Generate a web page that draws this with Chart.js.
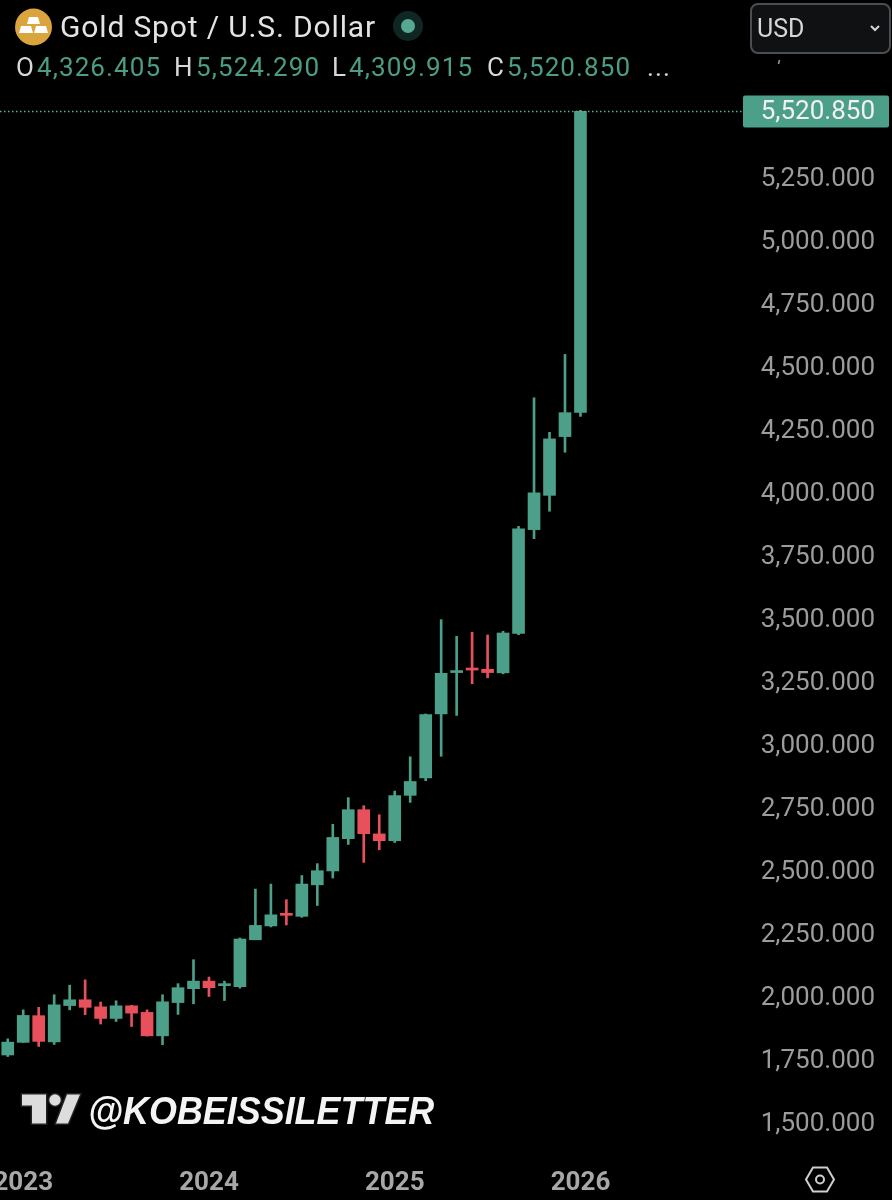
<!DOCTYPE html>
<html>
<head>
<meta charset="utf-8">
<title>Gold Spot / U.S. Dollar</title>
<script src="https://cdn.jsdelivr.net/npm/chart.js@4"></script>
<style>
  html, body { margin: 0; background: #000; }
  #wrap { position: relative; width: 892px; height: 1200px; overflow: hidden; font-family: Roboto, sans-serif; }
  canvas { position: absolute; left: 0; top: 0; }
  .t { position: absolute; white-space: nowrap; line-height: 1; }
  .ohlc { top: 54px; font-size: 26px; letter-spacing: 1.1px; color: #4c9c86; }
  .ohlc.k { color: #d8d8d8; }
  svg { position: absolute; left: 0; top: 0; }
  #usd { position: absolute; left: 750px; top: 3px; width: 137px; height: 47px; border: 2px solid #4a4d52; border-radius: 8px; background: #101113; }
</style>
</head>
<body>
<div id="wrap">
  <canvas id="goldChart" width="892" height="1200"></canvas>
  <svg width="892" height="1200">
    <!-- gold icon -->
    <circle cx="33.5" cy="27" r="18.5" fill="#d9a53c"/>
    <path d="M29 17h9l2 7H27z M21 26h10l2 7H19z M36 26h10l2 7H34z" fill="#fff"/>
    <!-- market status dot -->
    <circle cx="408" cy="26" r="15" fill="#0f2622"/>
    <circle cx="408" cy="26" r="7" fill="#56a892"/>
    <!-- tradingview logo -->
    <g stroke="#222" stroke-width="3" paint-order="stroke">
      <path d="M22 1094.5h24v29H32v-18H22z" fill="#ddd"/>
      <circle cx="55" cy="1100" r="5.7" fill="#ddd"/>
      <path d="M67 1094.5h13l-12 29H56z" fill="#ddd"/>
    </g>
    <!-- settings hexagon -->
    <path d="M813 1167.5h14l7 12-7 12h-14l-7-12z" fill="none" stroke="#cfcfcf" stroke-width="2"/>
    <circle cx="820" cy="1179.5" r="4" fill="none" stroke="#cfcfcf" stroke-width="2"/>
    <!-- comma of the clipped tick above the tag -->
    <path d="M779.5 60l-1 4" stroke="#9c9c9c" stroke-width="1.5"/>
  </svg>
  <div class="t" style="left:60px;top:12px;font-size:30px;color:#e4e4e4;letter-spacing:0.85px">Gold Spot / U.S. Dollar</div>
  <div class="t ohlc k" style="left:16px">O</div><div class="t ohlc" style="left:37px">4,326.405</div>
  <div class="t ohlc k" style="left:174px">H</div><div class="t ohlc" style="left:196px">5,524.290</div>
  <div class="t ohlc k" style="left:332px">L</div><div class="t ohlc" style="left:349px">4,309.915</div>
  <div class="t ohlc k" style="left:487px">C</div><div class="t ohlc" style="left:507px">5,520.850</div>
  <div class="t ohlc k" style="left:647px">...</div>
  <div id="usd"></div>
  <div class="t" style="left:757px;top:16px;font-size:25px;color:#d6d6d6">USD</div>
  <svg width="892" height="1200"><path d="M871 26l4 4 4-4" fill="none" stroke="#d6d6d6" stroke-width="2"/></svg>
  <div class="t" style="left:88px;top:1092px;font-family:'Liberation Sans',sans-serif;font-weight:700;font-style:italic;font-size:38px;color:#f4f4f4;transform:scaleX(0.945);transform-origin:left">@KOBEISSILETTER</div>
</div>

<script>
// monthly candles, Dec 2022 onwards. months after Jan 2026 stay empty
const months = [
  'Dec 2022',
  'Jan 2023', 'Feb 2023', 'Mar 2023', 'Apr 2023', 'May 2023', 'Jun 2023', 'Jul 2023', 'Aug 2023', 'Sep 2023', 'Oct 2023', 'Nov 2023', 'Dec 2023',
  'Jan 2024', 'Feb 2024', 'Mar 2024', 'Apr 2024', 'May 2024', 'Jun 2024', 'Jul 2024', 'Aug 2024', 'Sep 2024', 'Oct 2024', 'Nov 2024', 'Dec 2024',
  'Jan 2025', 'Feb 2025', 'Mar 2025', 'Apr 2025', 'May 2025', 'Jun 2025', 'Jul 2025', 'Aug 2025', 'Sep 2025', 'Oct 2025', 'Nov 2025', 'Dec 2025',
  'Jan 2026', 'Feb 2026', 'Mar 2026', 'Apr 2026', 'May 2026', 'Jun 2026', 'Jul 2026', 'Aug 2026', 'Sep 2026', 'Oct 2026', 'Nov 2026'
];

const opens = [1777, 1827, 1933, 1829, 1973, 1996, 1968, 1922, 1972, 1946, 1853, 1985, 2040,
  2070, 2052, 2048, 2234, 2289, 2337, 2327, 2452, 2507, 2635, 2750, 2654,
  2627, 2807, 2876, 3130, 3294, 3311, 3307, 3293, 3449, 3861, 3997, 4230, 4326.405];
const highs = [1841, 1956, 1966, 2016, 2054, 2075, 1987, 1992, 1974, 1956, 2016, 2060, 2155,
  2086, 2070, 2241, 2435, 2455, 2393, 2489, 2536, 2692, 2798, 2766, 2730,
  2824, 2960, 3130, 3504, 3438, 3454, 3443, 3458, 3874, 4384, 4247, 4556, 5524.29];
const lows = [1771, 1827, 1811, 1819, 1956, 1937, 1900, 1910, 1890, 1852, 1818, 1938, 1980,
  2009, 1993, 2042, 2234, 2285, 2293, 2323, 2370, 2479, 2612, 2541, 2591,
  2620, 2779, 2865, 2962, 3124, 3250, 3273, 3289, 3444, 3825, 3934, 4168, 4309.915];
const closes = [1828, 1934, 1831, 1976, 1996, 1966, 1922, 1972, 1943, 1853, 1988, 2044, 2070,
  2044, 2056, 2237, 2291, 2333, 2331, 2455, 2508, 2640, 2750, 2655, 2627,
  2806, 2862, 3127, 3291, 3298, 3304, 3294, 3451, 3864, 4007, 4221, 4325, 5520.85];

const priceTicks = [1500, 1750, 2000, 2250, 2500, 2750, 3000, 3250, 3500, 3750, 4000, 4250, 4500, 4750, 5000, 5250];
const lastPrice = 5520.85;

const green = '#4c9f89';
const red = '#e8505b';
const candleColors = closes.map((c, i) => c >= opens[i] ? green : red);

const fmt = v => v.toLocaleString('en-US', { minimumFractionDigits: 3, maximumFractionDigits: 3 });

// dotted last price line and its tag on the axis
const lastPriceTag = {
  id: 'lastPriceTag',
  afterDatasetsDraw(chart) {
    const { ctx, chartArea, scales } = chart;
    const y = Math.round(scales.y.getPixelForValue(lastPrice)) + 0.5;
    ctx.save();
    ctx.strokeStyle = '#5cb09a';
    ctx.lineWidth = 1.5;
    ctx.setLineDash([1.5, 2.5]);
    ctx.beginPath();
    ctx.moveTo(0, y);
    ctx.lineTo(chartArea.right, y);
    ctx.stroke();
    ctx.fillStyle = green;
    ctx.beginPath();
    ctx.roundRect(chartArea.right, y - 16, 146, 32, 2);
    ctx.fill();
    ctx.fillStyle = '#f2f2f2';
    ctx.font = '26px Roboto';
    ctx.textAlign = 'right';
    ctx.textBaseline = 'middle';
    ctx.fillText(fmt(lastPrice), 875, y + 1);
    ctx.restore();
  }
};

new Chart(document.getElementById('goldChart').getContext('2d'), {
  type: 'bar',
  data: {
    labels: months,
    datasets: [
      {
        label: 'Body',
        data: opens.map((o, i) => [o, closes[i]]),
        backgroundColor: candleColors,
        barThickness: 12,
        minBarLength: 2,
        grouped: false,
        order: 1
      },
      {
        label: 'Wick',
        data: lows.map((l, i) => [l, highs[i]]),
        backgroundColor: candleColors,
        barThickness: 2,
        grouped: false,
        order: 2
      }
    ]
  },
  options: {
    responsive: false,
    animation: false,
    devicePixelRatio: 1,
    layout: { padding: { left: 0, right: 17, top: 0, bottom: 0 } },
    plugins: { legend: { display: false }, tooltip: { enabled: false } },
    scales: {
      x: {
        grid: { display: false },
        border: { display: false },
        ticks: {
          autoSkip: false,
          maxRotation: 0,
          color: '#a8a8a8',
          padding: 13,
          font: { family: 'Roboto', size: 26, weight: 'bold' },
          callback(value) {
            const label = this.getLabelForValue(value);
            return label.startsWith('Jan') ? label.slice(4) : '';
          }
        },
        afterFit(s) { s.height = 53; s.paddingLeft = 0; s.paddingRight = 0; }
      },
      y: {
        position: 'right',
        min: 1412,
        max: 5962,
        grid: { display: false },
        border: { display: false },
        afterBuildTicks(s) { s.ticks = priceTicks.map(v => ({ value: v })); },
        ticks: {
          autoSkip: false,
          crossAlign: 'far',
          color: '#9c9c9c',
          font: { family: 'Roboto', size: 26 },
          callback: v => fmt(v)
        },
        afterFit(s) { s.width = 132; s.paddingTop = 0; s.paddingBottom = 0; }
      }
    }
  },
  plugins: [lastPriceTag]
});
</script>
</body>
</html>
